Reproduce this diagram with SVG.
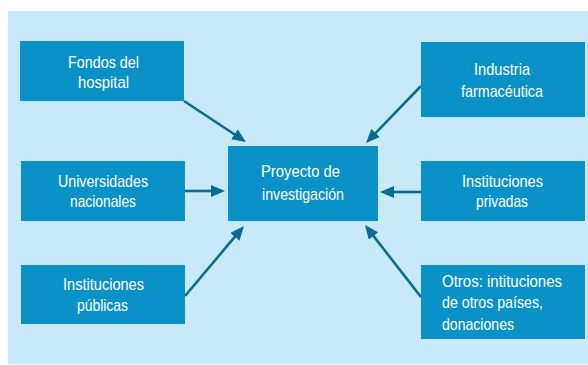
<svg xmlns="http://www.w3.org/2000/svg" width="588" height="365" viewBox="0 0 588 365">
<style>
.box{fill:#0a91c8;}
.t{font-family:"Liberation Sans",Arial,sans-serif;font-size:17px;fill:#ffffff;}
.c{stroke:#0b6b90;stroke-width:2.6;fill:none;}
</style>
<defs>
<marker id="ah" markerUnits="userSpaceOnUse" markerWidth="14" markerHeight="12" refX="4" refY="6" orient="auto">
<path d="M0,0 L14,6 L0,12 z" fill="#0b6b90"/>
</marker>
</defs>
<rect x="8" y="11" width="580" height="353" fill="#c7e9f8"/>
<g id="connectors">
<line class="c" x1="184" y1="101" x2="237.7" y2="136.5" marker-end="url(#ah)"/>
<line class="c" x1="185" y1="191" x2="215" y2="191" marker-end="url(#ah)"/>
<line class="c" x1="185" y1="296" x2="237.5" y2="233.7" marker-end="url(#ah)"/>
<line class="c" x1="421" y1="86" x2="372.9" y2="135.8" marker-end="url(#ah)"/>
<line class="c" x1="421" y1="192" x2="390" y2="192" marker-end="url(#ah)"/>
<line class="c" x1="421" y1="297" x2="371.1" y2="232.9" marker-end="url(#ah)"/>
</g>
<g id="fondos">
<rect class="box" x="20" y="41" width="164" height="60"/>
<text class="t" x="68" y="68" textLength="71" lengthAdjust="spacingAndGlyphs">Fondos del</text>
<text class="t" x="78" y="88" textLength="51" lengthAdjust="spacingAndGlyphs">hospital</text>
</g>
<g id="universidades">
<rect class="box" x="21" y="161" width="164" height="60"/>
<text class="t" x="58" y="187" textLength="90" lengthAdjust="spacingAndGlyphs">Universidades</text>
<text class="t" x="70" y="207" textLength="66" lengthAdjust="spacingAndGlyphs">nacionales</text>
</g>
<g id="publicas">
<rect class="box" x="21" y="265" width="164" height="59"/>
<text class="t" x="63" y="290" textLength="81" lengthAdjust="spacingAndGlyphs">Instituciones</text>
<text class="t" x="77" y="311" textLength="51" lengthAdjust="spacingAndGlyphs">públicas</text>
</g>
<g id="proyecto">
<rect class="box" x="228" y="146" width="150" height="75"/>
<text class="t" x="261" y="177" textLength="79" lengthAdjust="spacingAndGlyphs">Proyecto de</text>
<text class="t" x="262" y="200" textLength="82" lengthAdjust="spacingAndGlyphs">investigación</text>
</g>
<g id="industria">
<rect class="box" x="421" y="42" width="164" height="75"/>
<text class="t" x="474" y="75" textLength="56" lengthAdjust="spacingAndGlyphs">Industria</text>
<text class="t" x="461" y="97" textLength="82" lengthAdjust="spacingAndGlyphs">farmacéutica</text>
</g>
<g id="privadas">
<rect class="box" x="421" y="161" width="164" height="60"/>
<text class="t" x="462" y="187" textLength="81" lengthAdjust="spacingAndGlyphs">Instituciones</text>
<text class="t" x="476" y="207" textLength="52" lengthAdjust="spacingAndGlyphs">privadas</text>
</g>
<g id="otros">
<rect class="box" x="421" y="265" width="164" height="74"/>
<text class="t" x="442" y="287" textLength="120" lengthAdjust="spacingAndGlyphs">Otros: intituciones</text>
<text class="t" x="442" y="308" textLength="101" lengthAdjust="spacingAndGlyphs">de otros países,</text>
<text class="t" x="442" y="330" textLength="72" lengthAdjust="spacingAndGlyphs">donaciones</text>
</g>
</svg>
